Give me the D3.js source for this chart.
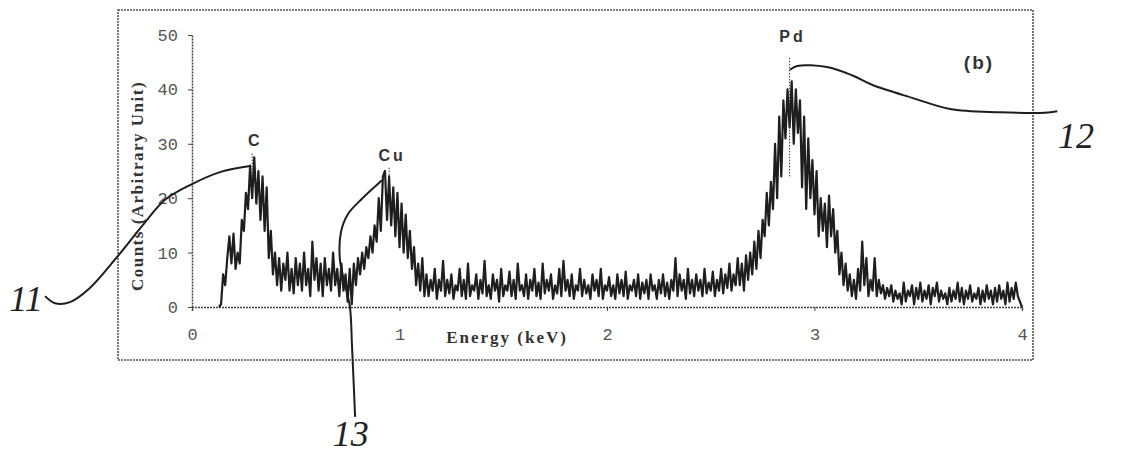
<!DOCTYPE html>
<html>
<head>
<meta charset="utf-8">
<script src="https://cdn.jsdelivr.net/npm/d3@7"></script>
<style>
  body { margin: 0; background: #fff; }
  svg { display: block; }
  .tick-label { font-family: 'Liberation Mono', monospace; font-size: 17px; fill: #555; }
  .axis-title { font-family: 'Liberation Serif', serif; font-weight: bold; fill: #333; }
  .peak-label { font-family: 'Liberation Sans', sans-serif; font-weight: bold; font-size: 16px; fill: #333; letter-spacing: 3px; }
  .hand { font-family: 'Liberation Serif', serif; font-style: italic; font-size: 36px; fill: #222; }
</style>
</head>
<body>
<script>
// EDS spectrum, one count value per 0.01 keV channel starting at 0.13 keV
const channelStart = 0.13
const channelWidth = 0.01
const counts = [
  0, 0.5, 6, 4, 9, 13, 8, 13.5, 7, 10,
  8, 16, 14, 21, 18, 26, 20, 27.5, 19, 25,
  16, 24, 14, 22, 9, 14, 6, 10, 4, 9,
  3, 8, 5, 10, 3, 7, 2.5, 9, 4, 8,
  3, 10, 4, 7, 2, 12, 5, 9, 3, 8,
  2, 9, 4, 7, 3, 10, 4, 7, 2, 8,
  3, 6, 1, 7, 0.5, 8, 4, 9, 6, 10,
  7, 11, 9, 13, 10, 15, 12, 20, 14, 24,
  25, 16, 24, 15, 22, 13, 21, 11, 19, 10,
  17, 9, 14, 7, 11, 4, 8, 3, 9, 2,
  6, 2, 5, 3, 7, 1.5, 5, 3, 8.5, 2,
  5, 2.5, 6, 1.5, 4, 3, 7, 2, 5, 1.5,
  8, 2, 4, 3, 6, 1.5, 5, 2.5, 8.5, 2,
  4, 1.5, 6, 3, 5, 1, 7, 2, 4, 3,
  6.5, 2, 5, 1.5, 8, 3, 4, 2, 6, 1.5,
  5, 3, 7, 2, 4.5, 1.5, 8, 2.5, 5, 3,
  6, 1.5, 4, 2.5, 7, 2, 8.5, 3, 5, 2,
  6, 1.5, 4, 3, 7, 2, 5, 2.5, 4, 1.5,
  6, 3, 5, 2, 7, 1.5, 4, 3, 5.5, 2,
  4, 1.5, 6, 2.5, 5, 2, 6.5, 1.5, 4, 3,
  5, 2, 6, 1.5, 4.5, 2.5, 5, 1.5, 6, 3,
  4, 1.5, 5, 2.5, 6, 2, 4.5, 1.5, 5, 3,
  9, 2, 6, 3, 5, 1.5, 7, 2.5, 5, 2,
  6, 3, 5, 2, 7, 2.5, 4.5, 3, 6.5, 2,
  5, 3, 7, 2.5, 6, 3.5, 8, 3, 6, 4,
  9, 4, 8, 3, 9.5, 5, 10, 6, 12, 7,
  14, 9, 16, 13, 21, 15, 23, 18, 30, 20,
  35, 24, 38, 31, 40, 33, 41.5, 30, 40, 32,
  38, 22, 35, 18, 31, 20, 27, 17, 25, 13,
  20, 14, 19, 11, 20.5, 13, 18, 10, 14, 6,
  10, 4, 8, 3, 6, 2, 5, 1.5, 7, 3,
  12, 4, 9, 2, 5, 3, 9, 2, 5, 2.5,
  4, 1.5, 3.5, 2, 4, 1, 3, 1.5, 2.5, 0.5,
  4.5, 1, 3, 2, 4, 0.5, 3.5, 1.5, 4.5, 1,
  3, 1.5, 4, 0.5, 3.5, 2, 4.5, 1, 3, 1.5,
  2.5, 0.5, 3.5, 1, 3, 1.5, 4.5, 1, 3.5, 0.5,
  3, 1.5, 4, 1, 2.5, 1.5, 3.5, 0.5, 3, 1,
  4, 1.5, 3, 0.5, 3.5, 1, 4, 1.5, 3, 0.5,
  4.5, 1, 3.5, 1.5, 4.5, 2, 1, 0
]

const xTicks = [0, 1, 2, 3, 4]
const yTicks = [0, 10, 20, 30, 40, 50]

// peak labels: name, energy (keV), label height (counts), marker top/bottom
const peakNames = ['C', 'Cu', 'Pd']
const peakEnergies = [0.29, 0.95, 2.88]
const peakLabelCounts = [30.6, 27.8, 49.8]
const peakMarkTop = [28.2, 25.6, 45.8]
const peakMarkBottom = [24, 21, 24]

// hand drawn reference numerals and their leader lines, in [keV, counts]
const refNames = ['11', '12', '13']
const refLabelPos = [[-0.8, 1.6], [4.26, 31.6], [0.765, -23.2]]
const refLeaders = [
  [[0.28, 25.9], [0.135, 24.8], [0, 22.6], [-0.13, 19.7], [-0.236, 15.1], [-0.361, 9.2],
   [-0.492, 3.5], [-0.588, 0.9], [-0.66, 0.7], [-0.708, 2.0]],
  [[2.882, 43.6], [2.916, 44.3], [3.06, 44.1], [3.186, 42.5], [3.28, 40.8], [3.475, 38.4],
   [3.653, 36.4], [3.894, 35.8], [4.11, 35.7], [4.17, 36.0]],
  [[0.916, 23.3], [0.819, 19.9], [0.752, 17.1], [0.718, 13.8], [0.713, 8.6], [0.737, 4.2],
   [0.761, 0], [0.771, -7.0], [0.786, -20.2]]
]

const chart = () => {
  let width = 1147,
      height = 460

  let svg = d3.select('body').append('svg')
      .attr('width', width)
      .attr('height', height)

  // outer frame
  svg.append('rect')
      .attr('x', 118).attr('y', 10)
      .attr('width', 915).attr('height', 350)
      .attr('fill', 'none')
      .attr('stroke', '#555')
      .attr('stroke-width', 1.6)
      .attr('stroke-dasharray', '2 1')

  let x = d3.scaleLinear().domain([0, 4]).range([192, 1022])
  let y = d3.scaleLinear().domain([0, 50]).range([307, 35])

  // x axis
  let xAxis = svg.append('g')
      .attr('transform', `translate(0,${y(0)})`)
      .call(d3.axisBottom(x).tickValues(xTicks).tickSize(4).tickFormat(d3.format('d')))
  xAxis.select('.domain').attr('stroke', '#444').attr('stroke-width', 1.5).attr('stroke-dasharray', '2 1')
  xAxis.selectAll('.tick line').attr('stroke', '#444')
  xAxis.selectAll('.tick text')
      .attr('class', 'tick-label')
      .attr('y', 28)
      .attr('dy', '0.32em')

  // y axis
  let yAxis = svg.append('g')
      .attr('transform', `translate(${x(0)},0)`)
      .call(d3.axisLeft(y).tickValues(yTicks).tickSize(4).tickSizeOuter(0))
  yAxis.select('.domain').attr('stroke', '#444').attr('stroke-width', 1.5).attr('stroke-dasharray', '2 1')
  yAxis.selectAll('.tick line').attr('stroke', '#444')
  yAxis.selectAll('.tick text')
      .attr('class', 'tick-label')
      .attr('x', -14)

  svg.append('text')
      .attr('class', 'axis-title')
      .attr('x', 507).attr('y', y(0) + 30)
      .attr('dy', '0.35em')
      .attr('text-anchor', 'middle')
      .style('font-size', '17px')
      .style('letter-spacing', '2px')
      .text('Energy (keV)')

  svg.append('text')
      .attr('class', 'axis-title')
      .attr('transform', `translate(137,186) rotate(-90)`)
      .attr('dy', '0.35em')
      .attr('text-anchor', 'middle')
      .style('font-size', '17px')
      .style('letter-spacing', '1.5px')
      .text('Counts (Arbitrary Unit)')

  // spectrum
  let points = counts.map((c, i) => [channelStart + i * channelWidth, c])
  let line = d3.line()
      .x(d => x(d[0]))
      .y(d => y(d[1]))
  svg.append('path')
      .datum(points)
      .attr('d', line)
      .attr('fill', 'none')
      .attr('stroke', '#1e1e1e')
      .attr('stroke-width', 2.2)
      .attr('stroke-linejoin', 'round')

  // peak labels and dotted markers
  let peaks = peakNames.map((n, i) => ({
    name: n, e: peakEnergies[i], ly: peakLabelCounts[i], top: peakMarkTop[i], bottom: peakMarkBottom[i]
  }))
  svg.selectAll('.peak-mark')
      .data(peaks).enter()
      .append('line')
      .attr('class', 'peak-mark')
      .attr('x1', d => x(d.e)).attr('x2', d => x(d.e))
      .attr('y1', d => y(d.top)).attr('y2', d => y(d.bottom))
      .attr('stroke', '#333')
      .attr('stroke-width', 1)
      .attr('stroke-dasharray', '1.5 1.5')
  svg.selectAll('.peak-label')
      .data(peaks).enter()
      .append('text')
      .attr('class', 'peak-label')
      .attr('x', d => x(d.e) + 3)
      .attr('y', d => y(d.ly))
      .attr('dy', '0.35em')
      .attr('text-anchor', 'middle')
      .text(d => d.name)

  svg.append('text')
      .attr('x', 979).attr('y', 62)
      .attr('dy', '0.35em')
      .attr('text-anchor', 'middle')
      .style('font-family', "'Liberation Sans', sans-serif")
      .style('font-weight', 'bold')
      .style('font-size', '19px')
      .style('fill', '#333')
      .style('letter-spacing', '2px')
      .text('(b)')

  // leader lines for reference numerals
  let leader = d3.line()
      .x(d => x(d[0]))
      .y(d => y(d[1]))
      .curve(d3.curveCatmullRom)
  svg.selectAll('.leader')
      .data(refLeaders).enter()
      .append('path')
      .attr('class', 'leader')
      .attr('d', leader)
      .attr('fill', 'none')
      .attr('stroke', '#1e1e1e')
      .attr('stroke-width', 2)

  svg.selectAll('.hand')
      .data(refNames).enter()
      .append('text')
      .attr('class', 'hand')
      .attr('x', (d, i) => x(refLabelPos[i][0]))
      .attr('y', (d, i) => y(refLabelPos[i][1]))
      .attr('dy', '0.35em')
      .attr('text-anchor', 'middle')
      .text(d => d)
}

chart()
</script>
</body>
</html>
